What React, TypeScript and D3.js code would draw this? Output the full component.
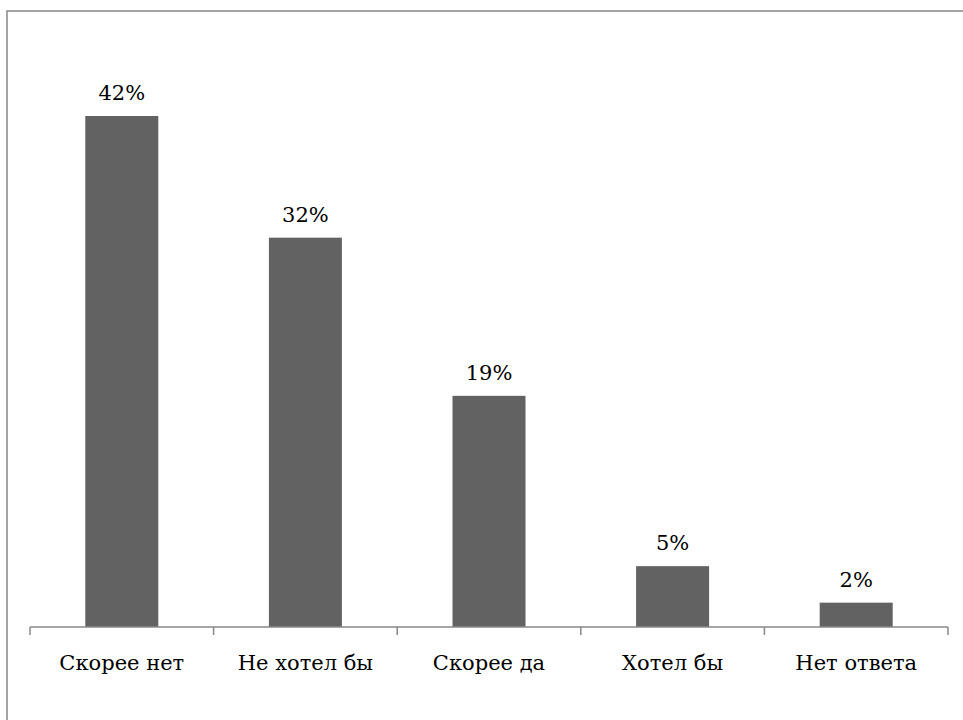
import React from "react";
import * as d3 from "d3";

const categories = ["Скорее нет", "Не хотел бы", "Скорее да", "Хотел бы", "Нет ответа"];
const values = [42, 32, 19, 5, 2];
const valueLabels = ["42%", "32%", "19%", "5%", "2%"];

export default function App() {
  const W = 963, H = 720;
  const x0 = 30, x1 = 948, base = 627;
  const x = d3.scaleBand<string>().domain(categories).range([x0, x1]).paddingInner(0).paddingOuter(0);
  const y = d3.scaleLinear().domain([0, 42]).range([base, 116]);
  const bw = 73;
  const textStyle = { fontFamily: "'DejaVu Serif'", fontSize: "21px" };
  const ticks = [x0, ...categories.map((c) => (x(c) as number) + x.bandwidth())];
  return (
    <svg width={W} height={H} style={{ position: "absolute", left: 0, top: 0, background: "#fff" }}>
      <rect x={7} y={11} width={1000} height={800} fill="#fff" stroke="#888" strokeWidth={1.5} />
      {categories.map((c, i) => {
        const cx = (x(c) as number) + x.bandwidth() / 2;
        return (
          <g key={c}>
            <rect x={cx - bw / 2} y={y(values[i])} width={bw} height={base - y(values[i])} fill="#626262" />
            <text x={cx} y={y(values[i]) - 16} textAnchor="middle" style={textStyle} fill="#000">
              {valueLabels[i]}
            </text>
            <text x={cx} y={670} textAnchor="middle" style={textStyle} fill="#000">
              {c}
            </text>
          </g>
        );
      })}
      <line x1={x0} x2={x1} y1={base} y2={base} stroke="#888" strokeWidth={1.5} />
      {ticks.map((t, i) => (
        <line key={i} x1={t} x2={t} y1={base} y2={base + 8} stroke="#888" strokeWidth={1.5} />
      ))}
    </svg>
  );
}
